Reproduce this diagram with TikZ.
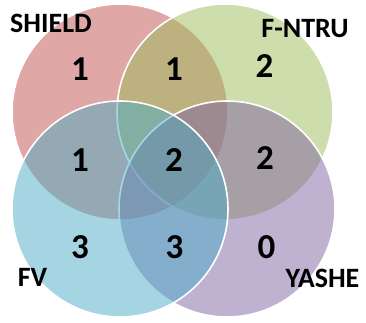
\documentclass[tikz,border=0pt]{standalone}
\usepackage{fontspec}
\setmainfont{Carlito}
\definecolor{setred}{HTML}{C0504D}
\definecolor{setgreen}{HTML}{9BBB59}
\definecolor{setblue}{HTML}{4BACC6}
\definecolor{setpurple}{HTML}{8064A2}
\begin{document}
\begin{tikzpicture}[x=1pt,y=-1pt,
  set/.style={circle, minimum size=216pt, inner sep=0pt, fill opacity=0.5,
              draw=white, draw opacity=1, line width=1.6pt},
  setlabel/.style={inner sep=0pt, text=black, font=\bfseries\fontsize{28}{28}\selectfont},
  count/.style={inner sep=0pt, text=black, font=\bfseries\fontsize{35}{35}\selectfont}]
\useasboundingbox (0,0) rectangle (366,322);
% the four sets, drawn back to front
\node[set, fill=setred]    (shield) at (120,112) {};
\node[set, fill=setgreen]  (fntru)  at (225,112) {};
\node[set, fill=setpurple] (yashe)  at (227,209) {};
\node[set, fill=setblue]   (fv)     at (120,209) {};
% set names
\node[setlabel] (lshield) at (51,23.5)   {SHIELD};
\node[setlabel] (lfntru)  at (305,28.5)  {F-NTRU};
\node[setlabel] (lfv)     at (32.5,277.5) {FV};
\node[setlabel] (lyashe)  at (322.5,278.5) {YASHE};
% region counts
\node[count] (nr)   at (80,69)    {1};
\node[count] (nrg)  at (174,69)   {1};
\node[count] (ng)   at (264.5,66.5) {2};
\node[count] (nrb)  at (80,160)   {1};
\node[count] (nall) at (174,160)  {2};
\node[count] (ngp)  at (265,158)  {2};
\node[count] (nb)   at (80,247.5) {3};
\node[count] (nbp)  at (174.5,247) {3};
\node[count] (np)   at (266.5,247) {0};
\end{tikzpicture}
\end{document}
